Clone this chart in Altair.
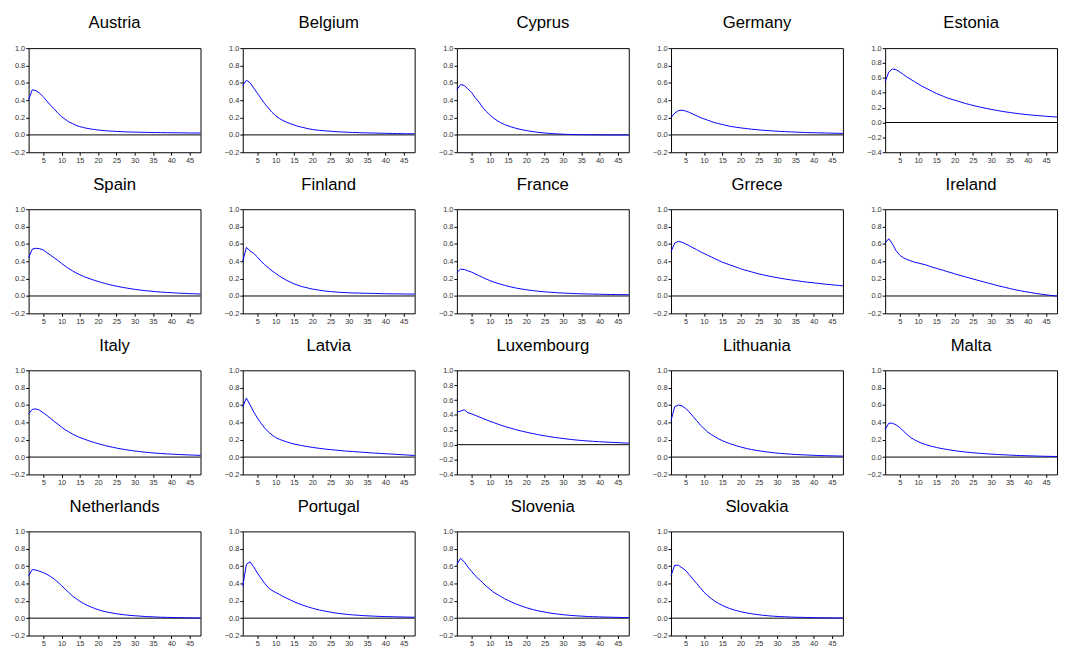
import altair as alt
import pandas as pd

periods = list(range(1, 49))

countries = ["Austria", "Belgium", "Cyprus", "Germany", "Estonia",
             "Spain", "Finland", "France", "Grrece", "Ireland",
             "Italy", "Latvia", "Luxembourg", "Lithuania", "Malta",
             "Netherlands", "Portugal", "Slovenia", "Slovakia"]

austria = [0.41, 0.52, 0.51, 0.48, 0.44, 0.39, 0.34, 0.30, 0.25, 0.21, 0.18, 0.15, 0.13, 0.11, 0.095, 0.085,
           0.075, 0.068, 0.062, 0.056, 0.052, 0.048, 0.045, 0.042, 0.040, 0.038, 0.036, 0.034, 0.033, 0.032, 0.031, 0.030,
           0.029, 0.028, 0.027, 0.027, 0.026, 0.026, 0.025, 0.025, 0.024, 0.024, 0.023, 0.023, 0.022, 0.022, 0.022, 0.021]
belgium = [0.57, 0.63, 0.60, 0.54, 0.48, 0.42, 0.36, 0.31, 0.26, 0.22, 0.19, 0.165, 0.145, 0.13, 0.115, 0.10,
           0.09, 0.08, 0.07, 0.063, 0.057, 0.052, 0.048, 0.045, 0.042, 0.039, 0.036, 0.034, 0.032, 0.030, 0.028, 0.027,
           0.025, 0.024, 0.023, 0.022, 0.021, 0.020, 0.019, 0.018, 0.017, 0.016, 0.015, 0.015, 0.014, 0.013, 0.013, 0.012]
cyprus = [0.52, 0.58, 0.57, 0.53, 0.49, 0.43, 0.38, 0.32, 0.27, 0.23, 0.195, 0.165, 0.14, 0.12, 0.105, 0.09,
          0.078, 0.067, 0.058, 0.05, 0.043, 0.037, 0.031, 0.026, 0.022, 0.018, 0.015, 0.012, 0.010, 0.008, 0.006, 0.005,
          0.004, 0.003, 0.002, 0.002, 0.001, 0.001, 0.0, 0.0, 0.0, -0.001, -0.001, -0.001, -0.001, -0.001, -0.001, -0.001]
germany = [0.20, 0.25, 0.28, 0.285, 0.275, 0.26, 0.24, 0.22, 0.20, 0.185, 0.17, 0.155, 0.14, 0.13, 0.12, 0.11,
           0.10, 0.093, 0.087, 0.081, 0.076, 0.071, 0.066, 0.062, 0.058, 0.054, 0.051, 0.048, 0.045, 0.042, 0.040, 0.038,
           0.036, 0.034, 0.032, 0.030, 0.029, 0.027, 0.026, 0.025, 0.024, 0.023, 0.022, 0.021, 0.020, 0.019, 0.018, 0.017]
estonia = [0.55, 0.68, 0.72, 0.71, 0.68, 0.645, 0.61, 0.58, 0.55, 0.52, 0.49, 0.465, 0.44, 0.415, 0.39, 0.37,
           0.35, 0.33, 0.315, 0.30, 0.285, 0.27, 0.255, 0.242, 0.23, 0.218, 0.207, 0.196, 0.186, 0.176, 0.167, 0.158,
           0.150, 0.142, 0.135, 0.128, 0.122, 0.116, 0.110, 0.105, 0.100, 0.096, 0.092, 0.088, 0.084, 0.080, 0.077, 0.074]
spain = [0.44, 0.54, 0.55, 0.545, 0.53, 0.50, 0.47, 0.44, 0.41, 0.375, 0.345, 0.315, 0.29, 0.265, 0.245, 0.225,
         0.21, 0.195, 0.18, 0.167, 0.155, 0.143, 0.132, 0.122, 0.113, 0.105, 0.097, 0.090, 0.083, 0.077, 0.071, 0.066,
         0.061, 0.057, 0.053, 0.049, 0.046, 0.043, 0.040, 0.038, 0.035, 0.033, 0.031, 0.029, 0.027, 0.026, 0.024, 0.023]
finland = [0.40, 0.56, 0.52, 0.49, 0.45, 0.40, 0.36, 0.325, 0.29, 0.26, 0.23, 0.205, 0.18, 0.16, 0.14, 0.125,
           0.11, 0.10, 0.09, 0.08, 0.073, 0.066, 0.06, 0.055, 0.051, 0.047, 0.044, 0.041, 0.039, 0.037, 0.035, 0.034,
           0.033, 0.032, 0.031, 0.030, 0.029, 0.028, 0.027, 0.026, 0.025, 0.025, 0.024, 0.024, 0.023, 0.023, 0.022, 0.022]
france = [0.27, 0.31, 0.305, 0.29, 0.275, 0.255, 0.235, 0.215, 0.195, 0.178, 0.162, 0.148, 0.135, 0.123, 0.112, 0.102,
          0.093, 0.085, 0.078, 0.072, 0.066, 0.061, 0.056, 0.052, 0.048, 0.045, 0.042, 0.039, 0.036, 0.034, 0.032, 0.030,
          0.028, 0.027, 0.025, 0.024, 0.023, 0.022, 0.021, 0.020, 0.019, 0.018, 0.017, 0.017, 0.016, 0.016, 0.015, 0.015]
greece = [0.51, 0.61, 0.63, 0.62, 0.60, 0.58, 0.555, 0.535, 0.51, 0.49, 0.47, 0.45, 0.43, 0.41, 0.39, 0.375,
          0.36, 0.345, 0.33, 0.315, 0.30, 0.29, 0.278, 0.266, 0.255, 0.245, 0.236, 0.227, 0.219, 0.211, 0.204, 0.197,
          0.19, 0.184, 0.178, 0.172, 0.166, 0.161, 0.156, 0.151, 0.146, 0.142, 0.137, 0.133, 0.129, 0.125, 0.121, 0.117]
ireland = [0.61, 0.66, 0.60, 0.52, 0.47, 0.44, 0.42, 0.405, 0.39, 0.38, 0.37, 0.36, 0.345, 0.33, 0.32, 0.305,
           0.295, 0.28, 0.27, 0.255, 0.243, 0.232, 0.22, 0.208, 0.196, 0.185, 0.173, 0.162, 0.15, 0.14, 0.128, 0.117,
           0.107, 0.097, 0.087, 0.077, 0.068, 0.06, 0.052, 0.045, 0.038, 0.031, 0.025, 0.019, 0.013, 0.008, 0.003, -0.001]
italy = [0.50, 0.55, 0.555, 0.54, 0.51, 0.48, 0.445, 0.41, 0.38, 0.345, 0.315, 0.29, 0.265, 0.245, 0.225, 0.21,
         0.195, 0.18, 0.167, 0.155, 0.143, 0.132, 0.122, 0.113, 0.104, 0.096, 0.089, 0.082, 0.076, 0.07, 0.065, 0.06,
         0.056, 0.052, 0.048, 0.045, 0.042, 0.039, 0.036, 0.034, 0.032, 0.03, 0.028, 0.026, 0.024, 0.023, 0.021, 0.02]
latvia = [0.58, 0.68, 0.60, 0.52, 0.45, 0.39, 0.335, 0.29, 0.255, 0.225, 0.205, 0.19, 0.175, 0.162, 0.151, 0.142,
          0.134, 0.126, 0.119, 0.112, 0.106, 0.10, 0.095, 0.09, 0.086, 0.082, 0.078, 0.074, 0.07, 0.067, 0.064, 0.061,
          0.058, 0.055, 0.052, 0.049, 0.046, 0.044, 0.041, 0.039, 0.036, 0.034, 0.031, 0.029, 0.026, 0.024, 0.021, 0.019]
luxembourg = [0.44, 0.45, 0.47, 0.43, 0.415, 0.395, 0.375, 0.355, 0.335, 0.315, 0.298, 0.28, 0.263, 0.247, 0.232, 0.218,
              0.204, 0.191, 0.179, 0.168, 0.157, 0.147, 0.137, 0.128, 0.119, 0.111, 0.103, 0.096, 0.089, 0.083, 0.077, 0.071,
              0.066, 0.061, 0.057, 0.053, 0.049, 0.046, 0.043, 0.040, 0.037, 0.034, 0.032, 0.029, 0.027, 0.025, 0.023, 0.021]
lithuania = [0.42, 0.58, 0.60, 0.59, 0.56, 0.52, 0.47, 0.42, 0.37, 0.33, 0.29, 0.26, 0.235, 0.21, 0.19, 0.172,
             0.156, 0.142, 0.129, 0.117, 0.106, 0.096, 0.087, 0.079, 0.072, 0.066, 0.060, 0.055, 0.05, 0.046, 0.042, 0.039,
             0.036, 0.033, 0.030, 0.028, 0.026, 0.024, 0.022, 0.02, 0.019, 0.017, 0.016, 0.015, 0.014, 0.013, 0.012, 0.011]
malta = [0.32, 0.39, 0.39, 0.37, 0.34, 0.30, 0.26, 0.225, 0.20, 0.178, 0.16, 0.145, 0.132, 0.121, 0.111, 0.102,
         0.094, 0.087, 0.08, 0.074, 0.068, 0.063, 0.058, 0.054, 0.05, 0.046, 0.043, 0.04, 0.037, 0.034, 0.031, 0.029,
         0.027, 0.025, 0.023, 0.021, 0.019, 0.018, 0.016, 0.015, 0.014, 0.012, 0.011, 0.01, 0.009, 0.008, 0.007, 0.007]
netherlands = [0.49, 0.56, 0.555, 0.54, 0.525, 0.505, 0.48, 0.45, 0.415, 0.375, 0.335, 0.295, 0.255, 0.225, 0.195, 0.17,
               0.148, 0.13, 0.113, 0.098, 0.085, 0.075, 0.066, 0.058, 0.051, 0.045, 0.04, 0.035, 0.031, 0.028, 0.025, 0.022,
               0.019, 0.017, 0.015, 0.013, 0.011, 0.010, 0.009, 0.008, 0.007, 0.006, 0.005, 0.004, 0.003, 0.003, 0.002, 0.002]
portugal = [0.37, 0.62, 0.65, 0.59, 0.52, 0.46, 0.40, 0.35, 0.32, 0.295, 0.275, 0.25, 0.23, 0.21, 0.19, 0.172,
            0.156, 0.142, 0.128, 0.115, 0.104, 0.094, 0.085, 0.077, 0.069, 0.062, 0.056, 0.051, 0.046, 0.042, 0.038, 0.035,
            0.032, 0.029, 0.027, 0.025, 0.023, 0.021, 0.019, 0.018, 0.017, 0.016, 0.015, 0.014, 0.013, 0.012, 0.011, 0.011]
slovenia = [0.62, 0.69, 0.65, 0.59, 0.54, 0.49, 0.45, 0.41, 0.37, 0.335, 0.30, 0.275, 0.25, 0.225, 0.205, 0.185,
            0.167, 0.15, 0.135, 0.121, 0.108, 0.097, 0.087, 0.078, 0.07, 0.063, 0.056, 0.05, 0.045, 0.04, 0.036, 0.032,
            0.029, 0.026, 0.024, 0.021, 0.019, 0.017, 0.016, 0.014, 0.013, 0.012, 0.011, 0.01, 0.009, 0.008, 0.007, 0.007]
slovakia = [0.49, 0.61, 0.61, 0.58, 0.55, 0.50, 0.45, 0.40, 0.35, 0.30, 0.26, 0.225, 0.195, 0.17, 0.148, 0.128,
            0.112, 0.098, 0.086, 0.075, 0.066, 0.058, 0.051, 0.045, 0.039, 0.034, 0.03, 0.026, 0.023, 0.02, 0.018, 0.016,
            0.014, 0.012, 0.011, 0.01, 0.009, 0.008, 0.007, 0.006, 0.005, 0.004, 0.004, 0.003, 0.003, 0.002, 0.002, 0.002]

series = [austria, belgium, cyprus, germany, estonia,
          spain, finland, france, greece, ireland,
          italy, latvia, luxembourg, lithuania, malta,
          netherlands, portugal, slovenia, slovakia]

wide_range = {"Estonia", "Luxembourg"}
x_ticks = [5, 10, 15, 20, 25, 30, 35, 40, 45]
y_ticks_std = [-0.2, 0.0, 0.2, 0.4, 0.6, 0.8, 1.0]
y_ticks_wide = [-0.4, -0.2, 0.0, 0.2, 0.4, 0.6, 0.8, 1.0]

FONT = "Liberation Sans"
panels = []
for name, vals in zip(countries, series):
    df = pd.DataFrame({"period": periods, "value": vals})
    wide = name in wide_range
    lo = -0.4 if wide else -0.2
    yticks = y_ticks_wide if wide else y_ticks_std
    yaxis = alt.Axis(values=yticks, format=".1f", title=None, minExtent=20, maxExtent=20,
                     labelOverlap=False, tickCount=len(yticks))
    yscale = alt.Scale(domain=[lo, 1.0], nice=False, zero=False)
    xs = alt.X("period:Q", scale=alt.Scale(domain=[1, 48], nice=False, zero=False),
               axis=alt.Axis(values=x_ticks, title=None, minExtent=14, maxExtent=14,
                             labelOverlap=False))
    zero = alt.Chart(pd.DataFrame({"zero": [0.0]})).mark_rule(color="black", strokeWidth=1).encode(
        y=alt.Y("zero:Q", scale=yscale, axis=yaxis))
    line = alt.Chart(df).mark_line(color="#0000ff", strokeWidth=1).encode(
        x=xs, y=alt.Y("value:Q", scale=yscale, axis=yaxis))
    panel = alt.layer(zero, line).properties(
        width=175, height=106,
        title=alt.TitleParams(name, fontSize=17, font=FONT, fontWeight="normal",
                              color="black", offset=12, anchor="middle"))
    panels.append(panel)

chart = alt.concat(*panels, columns=5, spacing={"row": 8, "column": 19}).properties(
    padding={"left": 0, "top": 0, "right": 0, "bottom": 0}
).configure_view(
    stroke="black", strokeWidth=1
).configure_axis(
    domain=False, grid=False, ticks=True, tickSize=3, tickColor="black",
    labelFontSize=7.5, labelFont=FONT, labelColor="#333333", labelPadding=1
)

chart.save("out.html", embed_options={"renderer": "svg", "actions": False})
